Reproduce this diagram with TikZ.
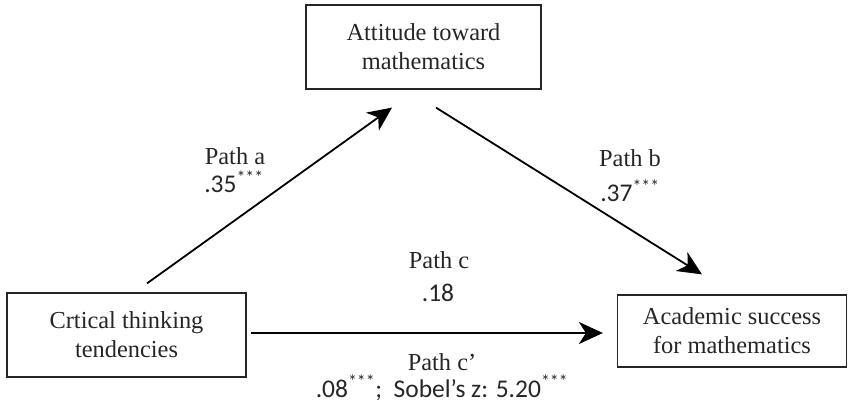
\documentclass[tikz,border=0pt]{standalone}
\usepackage{fontspec}
\setmainfont{Liberation Serif}
\newfontfamily\numfont{Carlito}
\usetikzlibrary{arrows.meta}
\tikzset{
  box/.style={draw=black!85, line width=1.2pt, align=center, inner sep=0pt,
    font=\fontsize{24.4}{29}\selectfont, text=black!85},
  arr/.style={line width=1.8pt, -{Stealth[length=24pt,width=22pt,inset=7pt]}},
  lbl/.style={font=\fontsize{24.4}{28}\selectfont, text=black!85, inner sep=0pt, anchor=base},
  num/.style={font=\numfont\fontsize{25.5}{28}\selectfont, text=black!85, inner sep=0pt, anchor=base},
}
\newcommand{\stars}{\textsuperscript{***}}
\begin{document}
\begin{tikzpicture}[x=1pt,y=-1pt]
\useasboundingbox (0,0) rectangle (848,411);
\node[box, minimum width=235pt, minimum height=84pt] (T) at (423.5,47) {Attitude toward\\mathematics};
\node[box, minimum width=239pt, minimum height=84pt] (L) at (126.5,335) {Crtical thinking\\tendencies};
\node[box, minimum width=229pt, minimum height=72pt] (R) at (732,331) {Academic success\\for mathematics};

\draw[arr] ([xshift=20.5pt,yshift=9pt]L.north) -- ([xshift=-31.5pt,yshift=-18pt]T.south);
\draw[arr] ([xshift=12.5pt,yshift=-18pt]T.south) -- ([xshift=-30pt,yshift=20pt]R.north);
\draw[arr] ([xshift=4pt,yshift=2pt]L.east) -- ([xshift=-14pt,yshift=-2pt]R.west);

\node[lbl] (pa) at (235,165) {Path a};
\node[num] (va) at (234,193) {.35\stars};
\node[lbl] (pb) at (630,167) {Path b};
\node[num] (vb) at (630,202) {.37\stars};
\node[lbl] (pc) at (439,269) {Path c};
\node[num] (vc) at (438,302) {.18};
\node[lbl] (pcp) at (442,370) {Path c’};
\node[num] (vcp) at (442,397) {.08\stars;\ \ Sobel’s z: 5.20\stars};
\end{tikzpicture}
\end{document}
